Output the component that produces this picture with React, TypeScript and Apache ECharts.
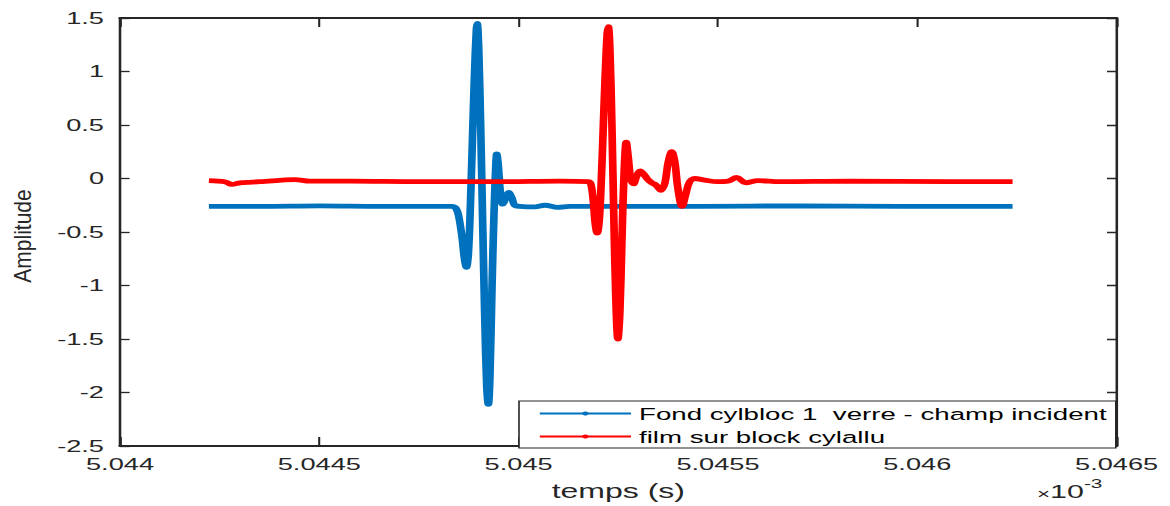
import React, { useEffect, useRef } from 'react';
import * as echarts from 'echarts';

// The reference figure is horizontally stretched; we render it narrower and stretch it with CSS.
const STRETCH = 1.6;
const WIDTH = 1170 / STRETCH;
const HEIGHT = 506;

const seriesNames = ['Fond cylbloc 1  verre - champ incident', 'film sur block cylallu'];
const seriesColors = ['#0072BD', '#FF0000'];

// time axis values are in units of 1e-3 s
const blueTime = [
  5.044223, 5.044351, 5.044502, 5.044652, 5.044802, 5.044832, 5.044843, 5.04485, 5.044858,
  5.044864, 5.044869, 5.044874, 5.044879, 5.044884, 5.044889, 5.044894, 5.044896, 5.0449,
  5.044905, 5.04491, 5.044915, 5.04492, 5.044924, 5.044928, 5.044933, 5.044938, 5.044943,
  5.044945, 5.044949, 5.044954, 5.04496, 5.044968, 5.044975, 5.044983, 5.04499, 5.045003,
  5.045041, 5.045066, 5.045098, 5.045128, 5.045204, 5.045454, 5.045705, 5.045956, 5.046239,
];
const blueAmp = [
  -0.26, -0.26, -0.255, -0.26, -0.26, -0.26, -0.28, -0.36, -0.55,
  -0.75, -0.83, -0.7, -0.25, 0.35, 0.95, 1.4, 1.45, 1.2,
  0.45, -0.45, -1.3, -1.95, -2.11, -1.85, -1.05, -0.35, 0.15,
  0.23, 0.12, -0.12, -0.24, -0.18, -0.13, -0.18, -0.25, -0.26,
  -0.265, -0.25, -0.27, -0.26, -0.26, -0.26, -0.255, -0.26, -0.26,
];

const redTime = [
  5.044223, 5.044263, 5.044281, 5.044301, 5.044351, 5.044439, 5.044476, 5.044577, 5.044752,
  5.044953, 5.045103, 5.045174, 5.045181, 5.045187, 5.045192, 5.045197, 5.045202, 5.045207,
  5.045212, 5.045217, 5.045222, 5.045225, 5.045229, 5.045234, 5.045239, 5.045244, 5.045249,
  5.045254, 5.045259, 5.045264, 5.04527, 5.045275, 5.045281, 5.045288, 5.045296, 5.045305,
  5.045314, 5.045324, 5.045334, 5.045344, 5.045357, 5.045367, 5.045375, 5.045384, 5.045392,
  5.045399, 5.04541, 5.045419, 5.045429, 5.045442, 5.045467, 5.045499, 5.045525, 5.045547,
  5.04557, 5.0456, 5.045655, 5.04583, 5.046081, 5.046239,
];
const redAmp = [
  -0.02, -0.03, -0.055, -0.04, -0.03, -0.01, -0.025, -0.025, -0.03,
  -0.03, -0.025, -0.03, -0.05, -0.2, -0.42, -0.51, -0.4, -0.05,
  0.45, 0.95, 1.35, 1.42, 1.2, 0.5, -0.4, -1.15, -1.5,
  -1.25, -0.6, 0.0, 0.34, 0.2, 0.0, -0.05, 0.02, 0.07,
  0.04, -0.01, -0.04, -0.06, -0.11, -0.04, 0.15, 0.25, 0.15,
  -0.08, -0.26, -0.15, -0.03, 0.0, -0.015, -0.03, -0.025, 0.01,
  -0.04, -0.02, -0.03, -0.025, -0.03, -0.03,
];

const xMin = 5.044;
const xMax = 5.0465;
const xStep = 0.0005;
const yMin = -2.5;
const yMax = 1.5;
const yStep = 0.5;

const axisColor = '#262626';
const font = 'Liberation Sans, Arial, Helvetica, sans-serif';

function zip(xs: number[], ys: number[]) {
  return xs.map((x, i) => [x, ys[i]]);
}

export default function App() {
  const ref = useRef<HTMLDivElement>(null);

  useEffect(() => {
    if (!ref.current) return;
    const chart = echarts.init(ref.current, null, { renderer: 'svg' });
    const gridLeft = 75;
    const gridRight = WIDTH - 1117 / STRETCH;
    const xCommon = {
      type: 'value',
      min: xMin,
      max: xMax,
      interval: xStep,
      splitLine: { show: false },
      axisLine: { show: true, onZero: false, lineStyle: { color: axisColor, width: 2.2 } },
      axisTick: { show: true, inside: true, length: 9, lineStyle: { color: axisColor, width: 1.3 } },
    };
    const yCommon = {
      type: 'value',
      min: yMin,
      max: yMax,
      interval: yStep,
      splitLine: { show: false },
      axisLine: { show: true, onZero: false, lineStyle: { color: axisColor, width: 1.6 } },
      axisTick: { show: true, inside: true, length: 6, lineStyle: { color: axisColor, width: 1.3 } },
    };
    chart.setOption({
      animation: false,
      backgroundColor: '#ffffff',
      grid: { left: gridLeft, right: gridRight, top: 18, bottom: 56, containLabel: false },
      xAxis: [
        {
          ...xCommon,
          position: 'bottom',
          axisLabel: {
            show: true,
            margin: 10,
            color: axisColor,
            fontFamily: font,
            fontSize: 17,
            formatter: (v: number) => String(+v.toFixed(4)),
          },
          name: 'temps (s)',
          nameLocation: 'middle',
          nameGap: 35,
          nameTextStyle: { color: axisColor, fontFamily: font, fontSize: 20 },
        },
        { ...xCommon, position: 'top', axisLabel: { show: false } },
      ],
      yAxis: [
        {
          ...yCommon,
          position: 'left',
          axisLabel: {
            show: true,
            margin: 10,
            color: axisColor,
            fontFamily: font,
            fontSize: 17,
            formatter: (v: number) => String(+v.toFixed(2)),
          },
        },
        { ...yCommon, position: 'right', axisLabel: { show: false } },
      ],
      legend: {
        orient: 'vertical',
        left: 519 / STRETCH,
        top: 401,
        itemWidth: 57,
        itemHeight: 5,
        itemGap: 6,
        padding: [4, 6, 3, 12],
        borderColor: axisColor,
        borderWidth: 1,
        borderRadius: 0,
        backgroundColor: '#ffffff',
        textStyle: { color: '#000000', fontFamily: font, fontSize: 17.3 },
        data: seriesNames,
      },
      graphic: [
        {
          type: 'text',
          x: 23 / STRETCH,
          y: 236,
          rotation: Math.PI / 2,
          scaleY: 1.1 / STRETCH,
          style: {
            text: 'Amplitude',
            fill: axisColor,
            font: `21px ${font}`,
            align: 'center',
            verticalAlign: 'middle',
          },
        },
        {
          type: 'text',
          x: 1037 / STRETCH,
          y: 477,
          style: {
            text: '{a|×}{b|10}{c|-3}',
            fill: axisColor,
            rich: {
              a: { fontSize: 14, fontFamily: font, fill: axisColor, verticalAlign: 'bottom', lineHeight: 24 },
              b: { fontSize: 19, fontFamily: font, fill: axisColor, verticalAlign: 'bottom', lineHeight: 24 },
              c: { fontSize: 13, fontFamily: font, fill: axisColor, verticalAlign: 'top', lineHeight: 24 },
            },
          },
        },
      ],
      series: [
        {
          name: seriesNames[0],
          type: 'line',
          data: zip(blueTime, blueAmp),
          smooth: 0.35,
          showSymbol: false,
          symbol: 'circle',
          symbolSize: 3,
          color: seriesColors[0],
          lineStyle: { width: 4.8, color: seriesColors[0] },
          xAxisIndex: 0,
          yAxisIndex: 0,
        },
        {
          name: seriesNames[1],
          type: 'line',
          data: zip(redTime, redAmp),
          smooth: 0.35,
          showSymbol: false,
          symbol: 'circle',
          symbolSize: 3,
          color: seriesColors[1],
          lineStyle: { width: 4.8, color: seriesColors[1] },
          xAxisIndex: 0,
          yAxisIndex: 0,
        },
      ],
    });
    return () => chart.dispose();
  }, []);

  return (
    <div
      ref={ref}
      style={{
        position: 'fixed',
        left: 0,
        top: 0,
        width: WIDTH,
        height: HEIGHT,
        transform: `scaleX(${STRETCH})`,
        transformOrigin: '0 0',
        background: '#ffffff',
      }}
    />
  );
}
